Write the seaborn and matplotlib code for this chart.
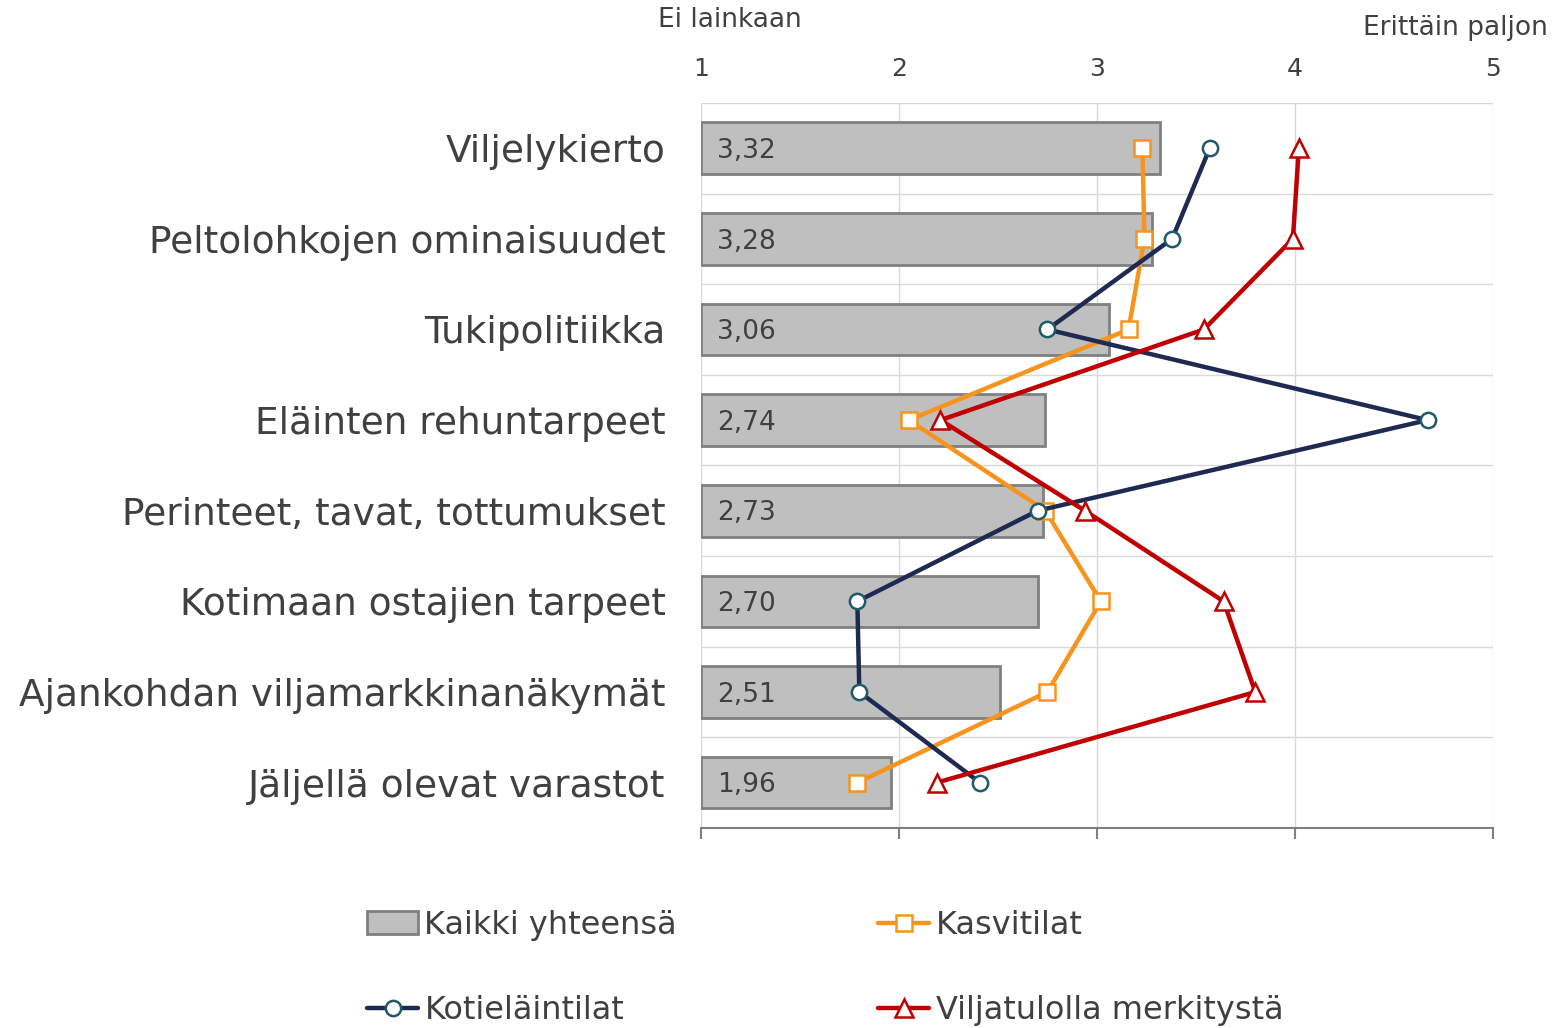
import numpy as np
import pandas as pd
import matplotlib
matplotlib.use("Agg")
import matplotlib.pyplot as plt
import seaborn as sns
from matplotlib.lines import Line2D
from matplotlib.patches import Patch

categories = ["Viljelykierto", "Peltolohkojen ominaisuudet", "Tukipolitiikka",
              "Eläinten rehuntarpeet", "Perinteet, tavat, tottumukset",
              "Kotimaan ostajien tarpeet", "Ajankohdan viljamarkkinanäkymät",
              "Jäljellä olevat varastot"]
kaikki = [3.32, 3.28, 3.06, 2.74, 2.73, 2.70, 2.51, 1.96]
kasvitilat = [3.23, 3.24, 3.16, 2.05, 2.74, 3.02, 2.75, 1.79]
kotielaintilat = [3.57, 3.38, 2.75, 4.67, 2.70, 1.79, 1.80, 2.41]
viljatulo = [4.02, 3.99, 3.54, 2.21, 2.94, 3.64, 3.80, 2.19]
xticks = [1, 2, 3, 4, 5]

txt = "#404040"
sns.set_style("white")
plt.rcParams["font.family"] = ["DejaVu Sans"]

fig = plt.figure(figsize=(15.66, 10.28), dpi=100)
ax = fig.add_axes([0.4476, 0.1946, 0.5057, 0.7053])

df = pd.DataFrame({"kategoria": categories, "arvo": kaikki})
# bars start from 1, so draw the length above 1 and shift to left=1
sns.barplot(data=df, y="kategoria", x=np.array(kaikki) - 1, orient="h",
            color="#bfbfbf", edgecolor="#808080", linewidth=2, width=0.57,
            saturation=1, ax=ax, zorder=2)
for p in ax.patches:
    p.set_x(1)

pos = np.arange(len(categories))
ax.plot(kasvitilat, pos, color="#f7941d", lw=3.2, marker="s", ms=11,
        mfc="white", mec="#f7941d", mew=1.8, zorder=4)
ax.plot(kotielaintilat, pos, color="#1f2a52", lw=3.2, marker="o", ms=11,
        mfc="white", mec="#1f5a6a", mew=1.8, zorder=5)
ax.plot(viljatulo, pos, color="#c00000", lw=3.2, marker="^", ms=13,
        mfc="white", mec="#c00000", mew=1.8, zorder=6)

for i, v in enumerate(kaikki):
    ax.text(1.08, i + 0.03, f"{v:.2f}".replace(".", ","), va="center",
            ha="left", fontsize=19, color=txt, zorder=3)

ax.set_xlim(1, 5)
ax.set_ylim(len(categories) - 0.5, -0.5)
ax.set_xticks(xticks)
ax.set_xticklabels([str(t) for t in xticks])
ax.set_yticks(pos)
ax.set_yticklabels(categories)
ax.set_yticks(np.arange(-0.5, len(categories) - 0.5, 1), minor=True)
ax.set_xlabel("")
ax.set_ylabel("")

ax.tick_params(axis="x", which="major", top=False, labeltop=True,
               bottom=True, labelbottom=False, length=8, width=1.5,
               color="#808080", labelsize=18, labelcolor=txt, pad=8)
ax.tick_params(axis="y", which="both", left=False, right=False,
               labelsize=27, labelcolor=txt, pad=22)

ax.grid(axis="x", which="major", color="#d9d9d9", lw=1, zorder=0)
ax.grid(axis="y", which="minor", color="#d9d9d9", lw=1, zorder=0)
ax.set_axisbelow(True)
for s in ["left", "right", "top"]:
    ax.spines[s].set_visible(False)
ax.spines["bottom"].set_color("#808080")
ax.spines["bottom"].set_linewidth(1.5)

fig.text(730 / 1566, 1 - 20 / 1028, "Ei lainkaan", ha="center", va="center",
         fontsize=19, color=txt)
fig.text(1548 / 1566, 1 - 28 / 1028, "Erittäin paljon", ha="right",
         va="center", fontsize=19, color=txt)

handles = [
    Patch(facecolor="#bfbfbf", edgecolor="#808080", linewidth=2),
    Line2D([], [], color="#1f2a52", lw=3.2, marker="o", ms=11, mfc="white",
           mec="#1f5a6a", mew=1.8),
    Line2D([], [], color="#f7941d", lw=3.2, marker="s", ms=11, mfc="white",
           mec="#f7941d", mew=1.8),
    Line2D([], [], color="#c00000", lw=3.2, marker="^", ms=13, mfc="white",
           mec="#c00000", mew=1.8),
]
labels = ["Kaikki yhteensä", "Kotieläintilat", "Kasvitilat",
          "Viljatulolla merkitystä"]
leg = fig.legend(handles, labels, ncol=2, loc="center left",
                 bbox_to_anchor=(367 / 1566, 1 - 968 / 1028), frameon=False,
                 fontsize=23, handlelength=1.6, handletextpad=0.2,
                 columnspacing=6.3, labelspacing=1.7, borderpad=0,
                 borderaxespad=0)
for t in leg.get_texts():
    t.set_color(txt)

fig.savefig("out.png", dpi=100)
